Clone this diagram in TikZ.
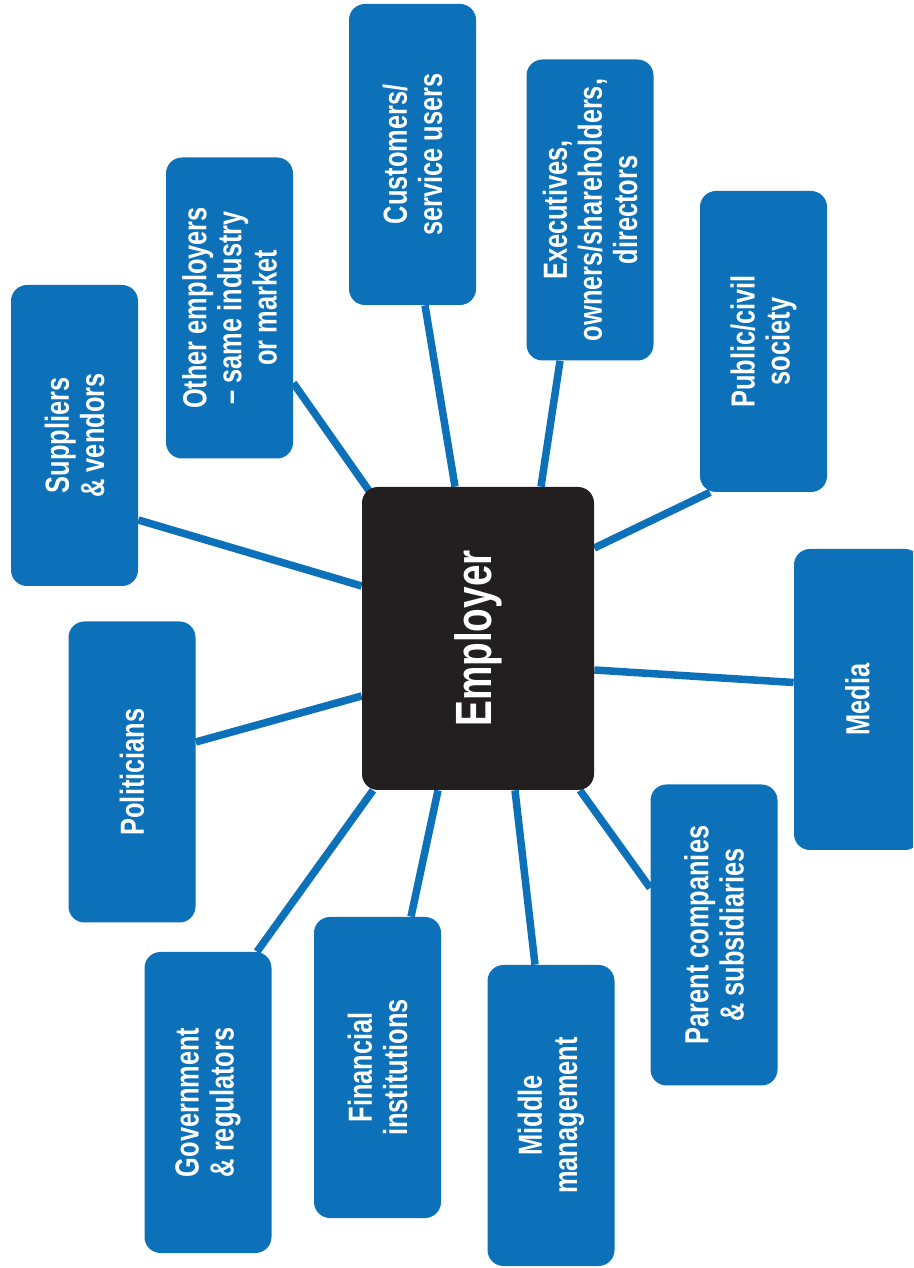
\documentclass[tikz,border=0pt]{standalone}
\usepackage{fontspec}
\setmainfont{Liberation Sans}[FakeStretch=0.76]
\usetikzlibrary{calc,backgrounds}
\definecolor{boxblue}{RGB}{12,113,185}
\definecolor{empblack}{RGB}{35,31,32}
\begin{document}
\begin{tikzpicture}[
        party/.style = {rotate = 90, fill = boxblue, text = white, rounded corners = 0.32cm, minimum width = 6.02cm, minimum height = 2.54cm, inner sep = 0pt, align = center, font = \fontsize{19}{20}\selectfont\bfseries},
        link/.style = {draw = boxblue, line width = 0.15cm}]
        \clip (0, 0) rectangle (18.26, 25.36);
        \node[party] (cust) at (8.25, 22.27) {Customers/\\service users};
        \node[party] (exec) at (11.80, 21.16) {Executives,\\owners/shareholders,\\directors};
        \node[party] (other) at (4.59, 19.20) {Other employers\\– same industry\\or market};
        \node[party] (supp) at (1.49, 16.65) {Suppliers\\\& vendors};
        \node[party] (public) at (15.27, 18.53) {Public/civil\\society};
        \node[party] (media) at (17.15, 11.37) {Media};
        \node[party] (polit) at (2.64, 9.92) {Politicians};
        \node[party] (parent) at (14.28, 6.66) {Parent companies\\\& subsidiaries};
        \node[party] (govt) at (4.16, 3.31) {Government\\\& regulators};
        \node[party] (fin) at (7.55, 4.01) {Financial\\institutions};
        \node[party] (middle) at (11.02, 3.05) {Middle\\management};
        \node[party, fill = empblack, minimum width = 6.06cm, minimum height = 4.64cm, font = \fontsize{29}{32}\selectfont\bfseries] (emp) at (9.56, 12.59) {Employer};
        \begin{scope}[on background layer]
        \draw[link] ($(emp.east) + (-0.46, 0)$) -- ($(cust.west) + (0.25, 0)$);
        \draw[link] ($(emp.east) + (1.26, 0)$) -- ($(exec.west) + (-0.6, 0)$);
        \draw[link] ($(emp.north east) + (0.16, -0.1)$) -- ($(other.south) + (0, -1.5)$);
        \draw[link] ($(emp.north) + (0, 1.05)$) -- ($(supp.south) + (0, -1.69)$);
        \draw[link] ($(emp.south) + (0, 1.81)$) -- ($(public.west) + (-1.07, 0)$);
        \draw[link] ($(emp.south) + (0, -0.63)$) -- ($(media.north) + (0, 0.34)$);
        \draw[link] ($(emp.north) + (0, -1.15)$) -- ($(polit.south) + (0, 0.6)$);
        \draw[link] ($(emp.west) + (2.04, 0)$) -- ($(parent.north) + (0, 0.94)$);
        \draw[link] ($(emp.west) + (-2.1, 0)$) -- ($(govt.east) + (0.98, 0)$);
        \draw[link] ($(emp.west) + (-0.8, 0)$) -- ($(fin.east) + (0.67, 0)$);
        \draw[link] ($(emp.west) + (0.74, 0)$) -- ($(middle.east) + (-0.32, 0)$);
        \end{scope}
\end{tikzpicture}
\end{document}
